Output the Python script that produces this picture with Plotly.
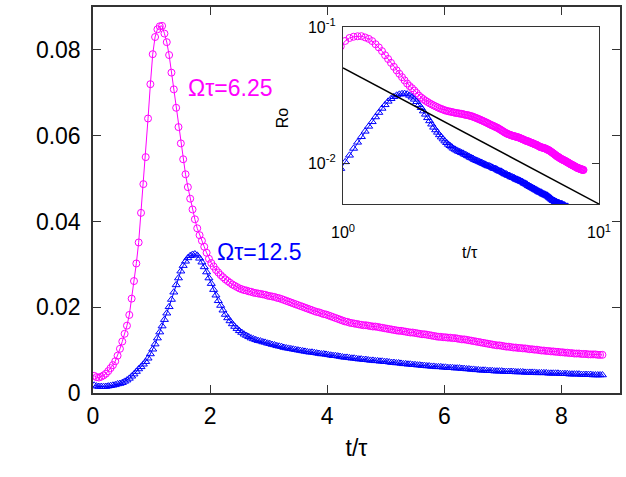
import plotly.graph_objects as go

# Ro(t) for Omega*tau = 6.25 (circles), sampled every 0.04 starting at t = 0.02
ro_625 = [
    0.0040, 0.0037, 0.0036, 0.0038, 0.0041, 0.0045, 0.0051, 0.0058, 0.0065, 0.0074,
    0.0087, 0.0103, 0.0120, 0.0138, 0.0157, 0.0182, 0.0220, 0.0261, 0.0302, 0.0351,
    0.0420, 0.0487, 0.0550, 0.0640, 0.0720, 0.0790, 0.0830, 0.0848, 0.0855, 0.0856,
    0.0838, 0.0818, 0.0788, 0.0747, 0.0708, 0.0665, 0.0620, 0.0582, 0.0545, 0.0510,
    0.0480, 0.0453, 0.0428, 0.0405, 0.0384, 0.0368, 0.0355, 0.0341, 0.0327, 0.0313,
    0.0303, 0.0295, 0.0287, 0.0281, 0.0275, 0.0270, 0.0265, 0.0261, 0.0257, 0.0253,
    0.0250, 0.0247, 0.0244, 0.0242, 0.0240, 0.0239, 0.0237, 0.0236, 0.0234, 0.0233,
    0.0232, 0.0231, 0.0230, 0.0229, 0.0227, 0.0226, 0.0225, 0.0224, 0.0222, 0.0221,
    0.0219, 0.0217, 0.0215, 0.0213, 0.0211, 0.0209, 0.0207, 0.0205, 0.0203, 0.0201,
    0.0199, 0.0197, 0.0195, 0.0193, 0.0191, 0.0189, 0.0188, 0.0186, 0.0184, 0.0183,
    0.0181, 0.0179, 0.0177, 0.0175, 0.0173, 0.0171, 0.0169, 0.0167, 0.0166, 0.0164,
    0.0163, 0.0162, 0.0161, 0.0160, 0.0159, 0.0158, 0.0158, 0.0157, 0.0156, 0.0155,
    0.0155, 0.0154, 0.0153, 0.0152, 0.0151, 0.0150, 0.0149, 0.0148, 0.0147, 0.0146,
    0.0145, 0.0145, 0.0144, 0.0143, 0.0142, 0.0141, 0.0141, 0.0140, 0.0139, 0.0138,
    0.0137, 0.0137, 0.0136, 0.0135, 0.0134, 0.0133, 0.0132, 0.0131, 0.0131, 0.0130,
    0.0130, 0.0129, 0.0129, 0.0128, 0.0128, 0.0127, 0.0126, 0.0125, 0.0125, 0.0124,
    0.0123, 0.0122, 0.0121, 0.0120, 0.0119, 0.0118, 0.0117, 0.0116, 0.0115, 0.0114,
    0.0113, 0.0112, 0.0111, 0.0111, 0.0110, 0.0109, 0.0108, 0.0108, 0.0107, 0.0106,
    0.0106, 0.0105, 0.0105, 0.0104, 0.0104, 0.0103, 0.0102, 0.0102, 0.0101, 0.0101,
    0.0100, 0.0099, 0.0099, 0.0098, 0.0098, 0.0097, 0.0097, 0.0096, 0.0096, 0.0095,
    0.0095, 0.0094, 0.0094, 0.0093, 0.0093, 0.0092, 0.0092, 0.0092, 0.0091, 0.0091,
    0.0091, 0.0090, 0.0090, 0.0090, 0.0090, 0.0089, 0.0089, 0.0089,
]

# Ro(t) for Omega*tau = 12.5 (triangles), same sampling
ro_125 = [
    0.0018, 0.0016, 0.0015, 0.0015, 0.0015, 0.0015, 0.0016, 0.0017, 0.0018, 0.0019,
    0.0021, 0.0022, 0.0024, 0.0027, 0.0030, 0.0034, 0.0039, 0.0044, 0.0050, 0.0056,
    0.0061, 0.0067, 0.0073, 0.0081, 0.0091, 0.0102, 0.0114, 0.0128, 0.0142, 0.0156,
    0.0171, 0.0186, 0.0201, 0.0218, 0.0235, 0.0252, 0.0268, 0.0284, 0.0297, 0.0307,
    0.0315, 0.0320, 0.0323, 0.0324, 0.0321, 0.0314, 0.0305, 0.0294, 0.0282, 0.0268,
    0.0255, 0.0241, 0.0228, 0.0215, 0.0204, 0.0193, 0.0183, 0.0175, 0.0168, 0.0161,
    0.0155, 0.0150, 0.0145, 0.0141, 0.0137, 0.0134, 0.0131, 0.0128, 0.0126, 0.0124,
    0.0122, 0.0121, 0.0119, 0.0118, 0.0116, 0.0115, 0.0113, 0.0112, 0.0110, 0.0109,
    0.0108, 0.0106, 0.0105, 0.0104, 0.0103, 0.0102, 0.0101, 0.0100, 0.0099, 0.0098,
    0.0097, 0.0096, 0.0095, 0.0095, 0.0094, 0.0093, 0.0092, 0.0091, 0.0091, 0.0090,
    0.0089, 0.0088, 0.0087, 0.0087, 0.0086, 0.0085, 0.0084, 0.0083, 0.0083, 0.0082,
    0.0081, 0.0081, 0.0080, 0.0079, 0.0079, 0.0078, 0.0078, 0.0077, 0.0076, 0.0076,
    0.0075, 0.0075, 0.0074, 0.0074, 0.0073, 0.0073, 0.0072, 0.0071, 0.0071, 0.0070,
    0.0070, 0.0069, 0.0068, 0.0068, 0.0067, 0.0067, 0.0066, 0.0066, 0.0065, 0.0065,
    0.0064, 0.0064, 0.0063, 0.0063, 0.0062, 0.0062, 0.0061, 0.0061, 0.0061, 0.0060,
    0.0060, 0.0059, 0.0059, 0.0059, 0.0058, 0.0058, 0.0058, 0.0057, 0.0057, 0.0056,
    0.0056, 0.0055, 0.0055, 0.0054, 0.0054, 0.0053, 0.0053, 0.0053, 0.0052, 0.0052,
    0.0052, 0.0051, 0.0051, 0.0051, 0.0051, 0.0050, 0.0050, 0.0050, 0.0050, 0.0050,
    0.0049, 0.0049, 0.0049, 0.0049, 0.0048, 0.0048, 0.0048, 0.0048, 0.0048, 0.0047,
    0.0047, 0.0047, 0.0047, 0.0047, 0.0046, 0.0046, 0.0046, 0.0046, 0.0046, 0.0045,
    0.0045, 0.0045, 0.0045, 0.0044, 0.0044, 0.0044, 0.0044, 0.0044, 0.0043, 0.0043,
    0.0043, 0.0043, 0.0043, 0.0042, 0.0042, 0.0042, 0.0042, 0.0042,
]

t_start = 0.02
t_step = 0.04
t_625 = [round(t_start + t_step * i, 2) for i in range(len(ro_625))]
t_125 = [round(t_start + t_step * i, 2) for i in range(len(ro_125))]

# reference power law in the inset: Ro ~ t^-1
ref_t = [1.0, 10.0]
ref_ro = [0.05, 0.005]

main_xticks = [0, 2, 4, 6, 8]
main_yticks = [0, 0.02, 0.04, 0.06, 0.08]
inset_xticks = [1, 10]
inset_xtext = ["10<sup>0</sup>", "10<sup>1</sup>"]
inset_yticks = [0.01, 0.1]
inset_ytext = ["10<sup>-2</sup>", "10<sup>-1</sup>"]

MAG = "#ff00ff"
BLU = "#0000ff"
FONT = "Liberation Sans, Arial, sans-serif"

fig = go.Figure()

# main panel
fig.add_trace(go.Scatter(x=t_625, y=ro_625, mode="lines+markers",
                         line=dict(color=MAG, width=1),
                         marker=dict(symbol="circle-open", size=7, color=MAG, line=dict(width=1)),
                         xaxis="x", yaxis="y", showlegend=False))
fig.add_trace(go.Scatter(x=t_125, y=ro_125, mode="lines+markers",
                         line=dict(color=BLU, width=1),
                         marker=dict(symbol="triangle-up-open", size=7, color=BLU, line=dict(width=1)),
                         xaxis="x", yaxis="y", showlegend=False))

# inset panel
fig.add_trace(go.Scatter(x=t_625, y=ro_625, mode="lines+markers",
                         line=dict(color=MAG, width=1),
                         marker=dict(symbol="circle-open", size=7, color=MAG, line=dict(width=1)),
                         xaxis="x2", yaxis="y2", showlegend=False))
fig.add_trace(go.Scatter(x=t_125, y=ro_125, mode="lines+markers",
                         line=dict(color=BLU, width=1),
                         marker=dict(symbol="triangle-up-open", size=7, color=BLU, line=dict(width=1)),
                         xaxis="x2", yaxis="y2", showlegend=False))
fig.add_trace(go.Scatter(x=ref_t, y=ref_ro, mode="lines",
                         line=dict(color="black", width=1.5),
                         xaxis="x2", yaxis="y2", showlegend=False))

axis_common = dict(showgrid=False, zeroline=False, showline=True, mirror="ticks",
                   ticks="inside", linecolor="#333333", tickcolor="#333333",
                   automargin=False)

fig.update_layout(
    template="none",
    width=626, height=477,
    margin=dict(l=93, r=6, t=7, b=84, autoexpand=False),
    paper_bgcolor="white", plot_bgcolor="white",
    font=dict(family=FONT, color="black"),
    xaxis=dict(domain=[0, 1], range=[0, 9], tickvals=main_xticks, ticklen=8, linewidth=1.5,
               tickwidth=1, tickfont=dict(size=23), ticklabelstandoff=2,
               title=dict(text="t/τ", font=dict(size=23), standoff=12), **axis_common),
    yaxis=dict(domain=[0, 1], range=[0, 0.09], tickvals=main_yticks, ticklen=8, linewidth=1.5,
               tickwidth=1, tickfont=dict(size=23), ticklabelstandoff=6, **axis_common),
    xaxis2=dict(domain=[0.4744, 0.9602], anchor="y2", type="log", range=[0, 1],
                tickvals=inset_xticks, ticktext=inset_xtext, ticklen=7, linewidth=1.2,
                tickfont=dict(size=16), ticklabelstandoff=14, **axis_common),
    yaxis2=dict(domain=[0.4896, 0.9482], anchor="x2", type="log", range=[-2.30103, -1],
                tickvals=inset_yticks, ticktext=inset_ytext, ticklen=7, linewidth=1.2,
                tickfont=dict(size=16), ticklabelstandoff=3, **axis_common),
    annotations=[
        dict(text="Ωτ=6.25", x=1.58, y=0.0711, xref="x", yref="y", xanchor="left",
             yanchor="middle", showarrow=False, font=dict(size=23, color=MAG)),
        dict(text="Ωτ=12.5", x=2.09, y=0.0329, xref="x", yref="y", xanchor="left",
             yanchor="middle", showarrow=False, font=dict(size=23, color=BLU)),
        dict(text="Ro", x=0.359, y=0.7124, xref="paper", yref="paper", textangle=-90,
             xanchor="center", yanchor="middle", showarrow=False, font=dict(size=16)),
        dict(text="t/τ", x=0.7154, y=0.3627, xref="paper", yref="paper",
             xanchor="center", yanchor="middle", showarrow=False, font=dict(size=16)),
    ],
)

fig.write_html("out.html")
